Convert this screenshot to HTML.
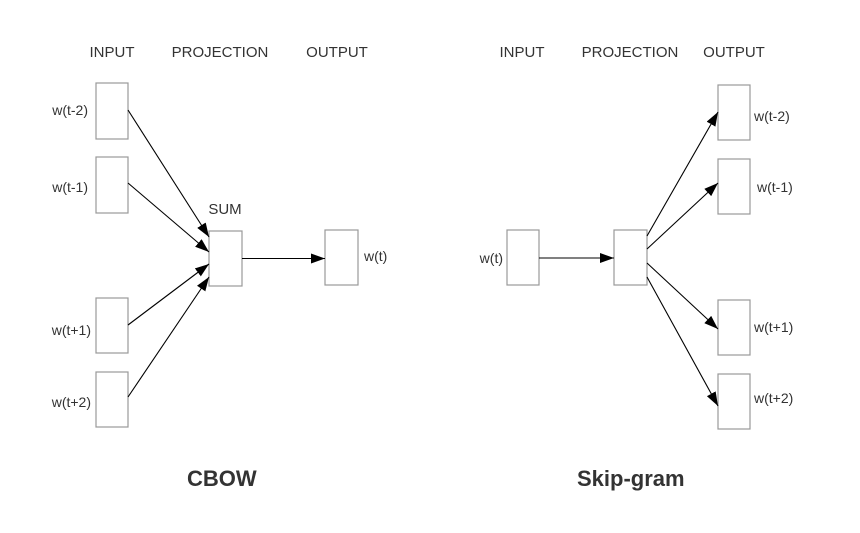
<!DOCTYPE html>
<html><head><meta charset="utf-8"><style>
html,body{margin:0;padding:0;background:#fff;}
svg{display:block;}
text{font-family:"Liberation Sans",Arial,sans-serif;fill:#333;}
</style></head><body>
<svg width="860" height="533" viewBox="0 0 860 533" xmlns="http://www.w3.org/2000/svg">
<defs>
<marker id="a" viewBox="0 0 14 10" refX="14" refY="5" markerWidth="14" markerHeight="10" markerUnits="userSpaceOnUse" orient="auto">
<path d="M0,0 L14,5 L0,10 Z" fill="#000"/>
</marker>
</defs>
<g font-size="15" text-anchor="middle">
<text x="112" y="57">INPUT</text>
<text x="220" y="57">PROJECTION</text>
<text x="337" y="57">OUTPUT</text>
<text x="522" y="57">INPUT</text>
<text x="630" y="57">PROJECTION</text>
<text x="734" y="57">OUTPUT</text>
<text x="225" y="214">SUM</text>
</g>
<g fill="#fff" stroke="#999" stroke-width="1.2">
<rect x="96" y="83" width="32" height="56"/>
<rect x="96" y="157" width="32" height="56"/>
<rect x="96" y="298" width="32" height="55"/>
<rect x="96" y="372" width="32" height="55"/>
<rect x="209" y="231" width="33" height="55"/>
<rect x="325" y="230" width="33" height="55"/>
<rect x="507" y="230" width="32" height="55"/>
<rect x="614" y="230" width="33" height="55"/>
<rect x="718" y="85" width="32" height="55"/>
<rect x="718" y="159" width="32" height="55"/>
<rect x="718" y="300" width="32" height="55"/>
<rect x="718" y="374" width="32" height="55"/>
</g>
<g font-size="14">
<text x="88" y="115" text-anchor="end">w(t-2)</text>
<text x="88" y="192" text-anchor="end">w(t-1)</text>
<text x="91" y="335" text-anchor="end">w(t+1)</text>
<text x="91" y="407" text-anchor="end">w(t+2)</text>
<text x="364" y="261">w(t)</text>
<text x="503" y="263" text-anchor="end">w(t)</text>
<text x="754" y="121">w(t-2)</text>
<text x="757" y="192">w(t-1)</text>
<text x="754" y="332">w(t+1)</text>
<text x="754" y="403">w(t+2)</text>
</g>
<g stroke="#000" stroke-width="1.1" marker-end="url(#a)">
<line x1="128" y1="110" x2="209" y2="237"/>
<line x1="128" y1="183" x2="209" y2="252"/>
<line x1="128" y1="325" x2="209" y2="264"/>
<line x1="128" y1="397" x2="209" y2="277"/>
<line x1="242" y1="258.5" x2="325" y2="258.5"/>
<line x1="539" y1="258" x2="614" y2="258"/>
<line x1="647" y1="236" x2="718" y2="112"/>
<line x1="647" y1="249" x2="718" y2="183"/>
<line x1="647" y1="263" x2="718" y2="329"/>
<line x1="647" y1="277" x2="718" y2="406"/>
</g>
<g font-size="22" font-weight="bold">
<text x="187" y="486">CBOW</text>
<text x="577" y="486">Skip-gram</text>
</g>
</svg>
</body></html>
